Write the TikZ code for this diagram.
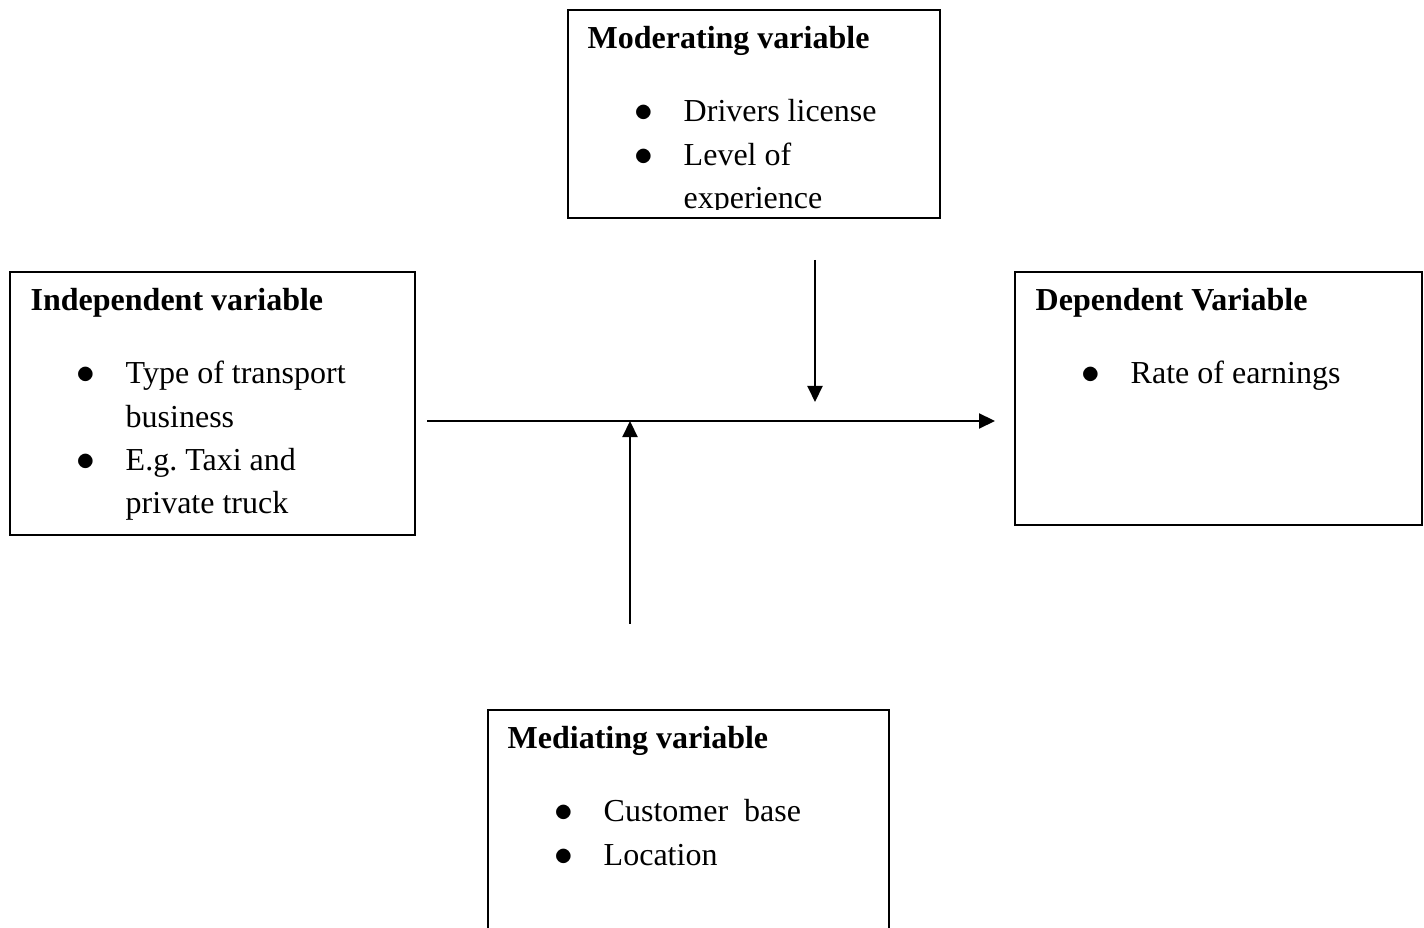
\documentclass[tikz,border=0pt]{standalone}
\usepackage{fontspec}
\setmainfont{Liberation Serif}
\usetikzlibrary{arrows.meta,calc}

\newcommand{\itemrows}[1]{\begin{tabular}[t]{@{}p{0.49cm}@{}l@{}}#1\end{tabular}}
\newcommand{\bul}{\scalebox{1.15}{$\bullet$}}
\frenchspacing

\begin{document}
\begin{tikzpicture}[x=0.01cm, y=-0.01cm,
  font=\fontsize{9.1}{12.24}\selectfont,
  varbox/.style={draw, line width=0.6pt, rectangle, inner sep=0pt, anchor=north west},
  vartitle/.style={anchor=base west, inner sep=0pt, font=\fontsize{9.1}{12.24}\selectfont\bfseries},
  varlist/.style={anchor=base west, inner sep=0pt},
  link/.style={line width=0.6pt, -{Triangle[length=0.16cm,width=0.15cm]}}]
  \useasboundingbox (0,0) rectangle (1424,928);
  \clip (0,0) rectangle (1424,928);

  % boxes
  \node[varbox, minimum width=4.05cm, minimum height=2.63cm] (indep) at (9,271) {};
  \node[varbox, minimum width=3.72cm, minimum height=2.08cm] (moder) at (567,9) {};
  \node[varbox, minimum width=4.07cm, minimum height=2.53cm] (dep) at (1014,271) {};
  \node[varbox, minimum width=4.01cm, minimum height=2.40cm] (medi) at (487,709) {};

  % titles
  \node[vartitle] (indeptitle) at ($(indep.north west)+(21,40)$) {Independent variable};
  \node[vartitle] (modertitle) at ($(moder.north west)+(20,40)$) {Moderating variable};
  \node[vartitle] (deptitle) at ($(dep.north west)+(21,40)$) {Dependent Variable};
  \node[vartitle] (medititle) at ($(medi.north west)+(20,40)$) {Mediating variable};

  % bullet lists
  \node[varlist] (indeplist) at ($(indep.north west)+(67,113)$)
    {\itemrows{\bul & Type of transport\\ & business\\ \bul & E.g. Taxi and\\ & private truck}};
  \begin{scope}
    \clip (moder.north west) rectangle ($(moder.south east)+(0,-10)$);
    \node[varlist] (moderlist) at ($(moder.north west)+(67,113)$)
      {\itemrows{\bul & Drivers license\\ \bul & Level of\\ & experience}};
  \end{scope}
  \node[varlist] (deplist) at ($(dep.north west)+(67,113)$)
    {\itemrows{\bul & Rate of earnings}};
  \node[varlist] (medilist) at ($(medi.north west)+(67,113)$)
    {\itemrows{\bul & Customer\ \ base\\ \bul & Location}};

  % arrows
  \coordinate (flowstart) at ($(indep.east |- 0,421)+(11,0)$);
  \coordinate (flowend) at ($(dep.west |- 0,421)+(-19,0)$);
  \coordinate (modtail) at (815,260);
  \coordinate (modhead) at (815,402);
  \coordinate (meditail) at (630,624);
  \coordinate (medihead) at (630,421);
  \draw[link] (flowstart) -- (flowend);
  \draw[link] (modtail) -- (modhead);
  \draw[link] (meditail) -- (medihead);
\end{tikzpicture}
\end{document}
